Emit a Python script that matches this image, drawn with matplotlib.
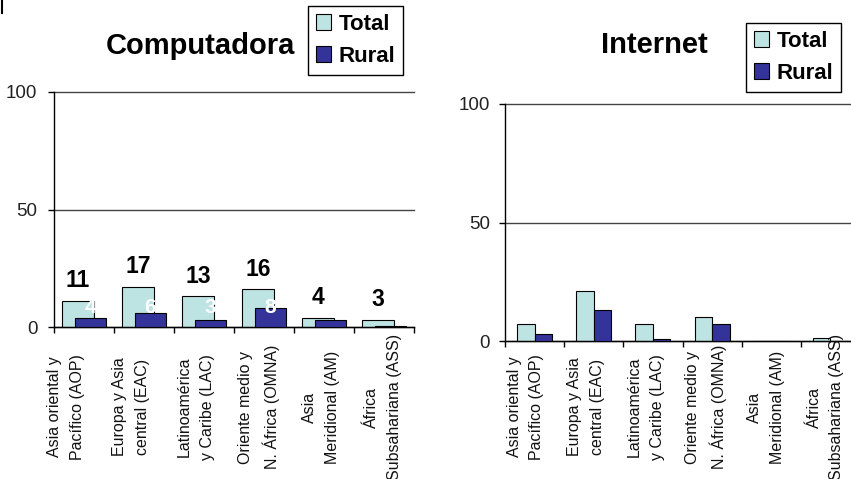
import matplotlib
matplotlib.use("Agg")
import matplotlib.pyplot as plt
import numpy as np
from matplotlib.patches import Patch
from matplotlib.lines import Line2D
from matplotlib.transforms import ScaledTranslation, blended_transform_factory

categories = ["Asia oriental y\nPacífico (AOP)", "Europa y Asia\ncentral (EAC)",
              "Latinoamérica\ny Caribe (LAC)", "Oriente medio y\nN. África (OMNA)",
              "Asia\nMeridional (AM)", "África\nSubsahariana (ASS)"]
comp_total = [11, 17, 13, 16, 4, 3]
comp_rural = [4, 6, 3, 8, 3, 0.6]
comp_total_labels = ["11", "17", "13", "16", "4", "3"]
comp_rural_labels = ["4", "6", "3", "8", "3", "1"]
net_total = [7, 21, 7, 10, 0, 1.3]
net_rural = [3, 13, 1, 7, 0, 0]
yticks = [0, 50, 100]

C_TOTAL = "#bde3e3"
C_RURAL = "#333399"
SANS = ["Liberation Sans", "DejaVu Sans"]

W, H = 851, 479
fig = plt.figure(figsize=(W / 100, H / 100), dpi=100)

def fy(py):
    return 1 - py / H

def setup_axes(ax, label_offsets, pad):
    ax.set_xlim(0, len(categories))
    ax.set_ylim(0, 100)
    ax.set_yticks(yticks)
    ax.set_yticklabels([str(v) for v in yticks], fontsize=13.5, family=SANS, color="#222222")
    ax.set_xticks(np.arange(len(categories) + 1))
    ax.set_xticklabels([])
    ax.tick_params(axis="y", direction="out", length=4, width=1, pad=pad)
    ax.tick_params(axis="x", direction="out", length=4.5, width=1)
    for s in ["top", "right"]:
        ax.spines[s].set_visible(False)
    for s in ["left", "bottom"]:
        ax.spines[s].set_linewidth(1)
        ax.spines[s].set_color("black")
    ax.set_axisbelow(True)
    ax.grid(axis="y", color="#444444", linewidth=1)
    for gl in ax.get_ygridlines():
        gl.set_clip_on(False)
    trans = blended_transform_factory(ax.transData, fig.transFigure)
    for i, lab in enumerate(categories):
        t = trans + ScaledTranslation(label_offsets[i] / 100, 0, fig.dpi_scale_trans)
        ax.text(i + 0.5, fy(407), lab, transform=t, rotation=90, ha="center", va="center",
                multialignment="center", fontsize=11.5, family=SANS, color="#111111",
                linespacing=1.65, clip_on=False)

def add_legend(ax, x_px, y_px):
    handles = [Patch(facecolor=C_TOTAL, edgecolor="black", linewidth=0.8, label="Total"),
               Patch(facecolor=C_RURAL, edgecolor="black", linewidth=0.8, label="Rural")]
    leg = ax.legend(handles=handles, loc="upper left", bbox_to_anchor=(x_px / W, fy(y_px)),
                    bbox_transform=fig.transFigure, frameon=True, fancybox=False,
                    edgecolor="black", framealpha=1, borderaxespad=0,
                    prop={"family": SANS, "weight": "bold", "size": 16},
                    handlelength=0.68, handleheight=0.68, handletextpad=0.35,
                    labelspacing=0.5, borderpad=0.35)
    leg.get_frame().set_linewidth(1)

# ---- Left: Computadora
ax1 = fig.add_axes([54 / W, fy(327), 360 / W, 235 / H])
x = np.arange(len(categories)) + 0.5
w1 = 0.53
ax1.bar(x - 0.1, comp_total, width=w1, color=C_TOTAL, edgecolor="black", linewidth=0.8, zorder=2)
ax1.bar(x + 0.108, comp_rural, width=w1, color=C_RURAL, edgecolor="black", linewidth=0.8, zorder=3)
for xi, v, s in zip(x, comp_total, comp_total_labels):
    ax1.annotate(s, (xi - 0.1, v), xytext=(0, 10), textcoords="offset points", ha="center",
                 va="baseline", fontsize=16.5, fontweight="bold", family=SANS, color="black", zorder=5)
for xi, s in zip(x, comp_rural_labels):
    ax1.text(xi + 0.108, 6, s, ha="center", va="baseline", fontsize=15, fontweight="bold",
             family=SANS, color="white", zorder=5)
setup_axes(ax1, [-18, -13, -8, -5, -3, -1], 8)
add_legend(ax1, 308, 6)
fig.text(200 / W, fy(54), "Computadora", ha="center", va="baseline", fontsize=21,
         fontweight="bold", family=SANS)

# ---- Right: Internet
ax2 = fig.add_axes([505 / W, fy(341), 355 / W, 237 / H])
w2 = 0.295
ax2.bar(x - w2 / 2, net_total, width=w2, color=C_TOTAL, edgecolor="black", linewidth=0.8, zorder=2)
ax2.bar(x + w2 / 2, net_rural, width=w2, color=C_RURAL, edgecolor="black", linewidth=0.8, zorder=3)
setup_axes(ax2, [-9, -8, -7, -6, -5, -5], 7)
add_legend(ax2, 746, 23)
fig.text(654 / W, fy(53), "Internet", ha="center", va="baseline", fontsize=21,
         fontweight="bold", family=SANS)

fig.add_artist(Line2D([1.5 / W, 1.5 / W], [1, fy(13)], color="black", linewidth=1.5))

fig.savefig("out.png", dpi=100)
